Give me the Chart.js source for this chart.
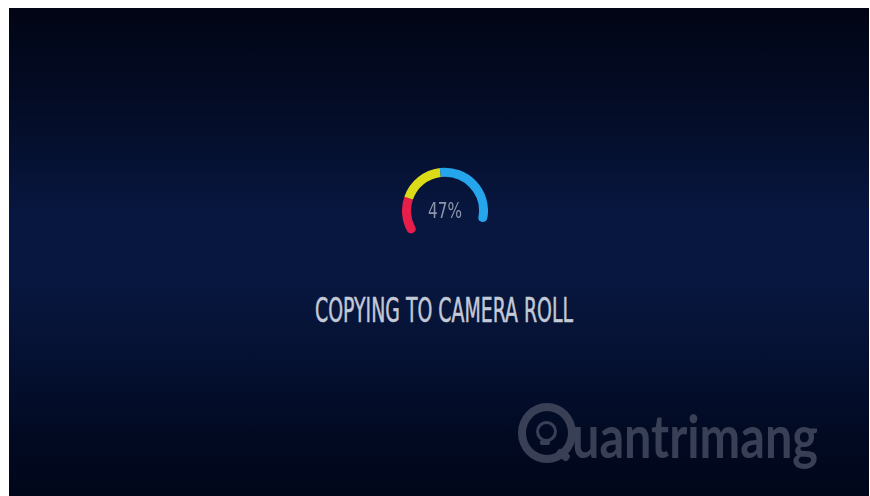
<!DOCTYPE html>
<html>
<head>
<meta charset="utf-8">
<script src="https://cdn.jsdelivr.net/npm/chart.js@4/dist/chart.umd.min.js"></script>
<style>
  html, body { margin: 0; padding: 0; background: #ffffff; width: 870px; height: 496px; overflow: hidden; }
  #stage {
    position: absolute; left: 9px; top: 8px; width: 860px; height: 488px;
    background: linear-gradient(to bottom,
      rgb(1,5,21) 0%,
      rgb(4,13,40) 22%,
      rgb(8,23,64) 42%,
      rgb(8,23,63) 56%,
      rgb(5,17,50) 72%,
      rgb(2,10,34) 88%,
      rgb(1,7,26) 100%);
  }
  #gauge { position: absolute; left: 402px; top: 167px; width: 86px; height: 69px; }
  .txt { position: absolute; white-space: nowrap; line-height: 1; }
  #pct { font-family: "Liberation Sans Narrow", "DejaVu Sans Condensed", sans-serif; font-size: 21px; color: #8d95a9; }
  #title { font-family: "Liberation Sans Narrow", "DejaVu Sans Condensed", sans-serif; font-size: 33px; color: #c3c9d6; -webkit-text-stroke: 0.5px #c3c9d6; }
  #wm { font-family: Lato, "Open Sans", sans-serif; font-weight: 700; font-size: 60px; color: #394056; }
  #ring { position: absolute; left: 518px; top: 403px; width: 42px; height: 44px; border: 8px solid #394056; border-radius: 50%; }
  #tail { position: absolute; left: 556px; top: 451px; width: 14px; height: 8px; background: #394056; border-radius: 3px; transform: rotate(35deg); }
  #bulb { position: absolute; left: 536px; top: 421px; width: 15px; height: 15px; border: 3px solid #394056; border-radius: 50%; }
  #bulbbase { position: absolute; left: 540px; top: 440px; width: 10px; height: 5px; background: #394056; border-radius: 2px; }
</style>
</head>
<body>
<div id="stage"></div>
<div id="ring"></div><div id="tail"></div><div id="bulb"></div><div id="bulbbase"></div>
<div id="gauge"><canvas id="c"></canvas></div>
<div class="txt" id="pct">47%</div>
<div class="txt" id="title">COPYING TO CAMERA ROLL</div>
<div class="txt" id="wm">uantrimang</div>
<script>
// Gauge segments (arc span of each coloured band, in degrees of the 232° gauge)
const segmentLabels = ["Red", "Yellow", "Blue"];
const segmentValues = [54, 64, 114];
const segmentColors = ["#e81e4a", "#dcdb17", "#25a6ec"];
const gaugeRotation = -125;
const gaugeCircumference = 232;
const percentLabel = "47%";
const titleLabel = "COPYING TO CAMERA ROLL";

document.getElementById('pct').textContent = percentLabel;
document.getElementById('title').textContent = titleLabel;

const last = segmentValues.length - 1;
new Chart(document.getElementById('c'), {
  type: 'doughnut',
  data: {
    labels: segmentLabels,
    datasets: [{
      data: segmentValues,
      backgroundColor: segmentColors,
      borderWidth: 0,
      borderRadius: (ctx) => {
        const i = ctx.dataIndex;
        const r = 4.5;
        return {
          outerStart: i === 0 ? r : 0,
          innerStart: i === 0 ? r : 0,
          outerEnd: i === last ? r : 0,
          innerEnd: i === last ? r : 0
        };
      }
    }]
  },
  options: {
    responsive: true,
    maintainAspectRatio: false,
    animation: false,
    rotation: gaugeRotation,
    circumference: gaugeCircumference,
    cutout: '79%',
    layout: { padding: 0 },
    events: [],
    plugins: { legend: { display: false }, tooltip: { enabled: false } }
  }
});

function place(id, targetLeft, targetWidth, top) {
  const el = document.getElementById(id);
  const w = el.getBoundingClientRect().width;
  const s = targetWidth / w;
  el.style.left = targetLeft + 'px';
  el.style.top = top + 'px';
  el.style.transformOrigin = '0 0';
  el.style.transform = 'scaleX(' + s + ')';
}
place('pct', 428, 34, 200.5);
place('title', 315, 258, 294);
place('wm', 572, 246, 405);
</script>
</body>
</html>
